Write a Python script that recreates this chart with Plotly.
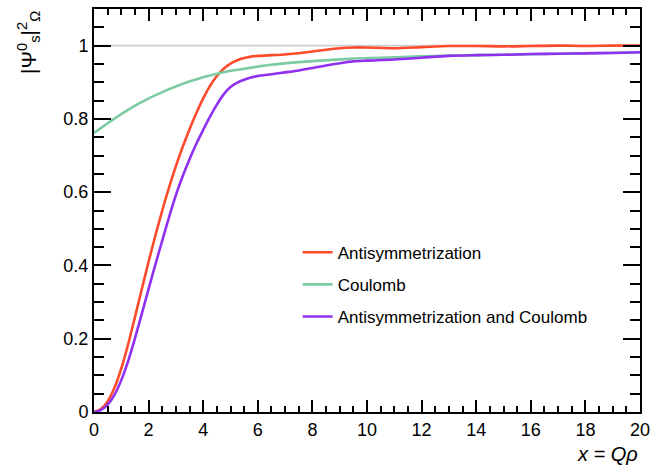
import plotly.graph_objects as go

# ---- data ----
x_anti = [0, 0.25, 0.5, 0.75, 1.0, 1.25, 1.5, 1.75, 2.0, 2.25, 2.5, 2.75, 3.0, 3.25, 3.5, 3.75, 4.0, 4.25, 4.5, 4.75,
          5.0, 5.25, 5.5, 5.75, 6.0, 6.5, 7.0, 7.5, 8.0, 8.5, 9.0, 9.5, 10.0, 11.0, 12.0, 13.0, 14.0, 15.0, 16.0, 17.0, 18.0, 19.0, 20.0]
y_anti = [0, 0.008, 0.029, 0.066, 0.119, 0.185, 0.259, 0.335, 0.41, 0.482, 0.55, 0.613, 0.671, 0.724, 0.772, 0.816, 0.856, 0.89, 0.917, 0.937,
          0.951, 0.960, 0.966, 0.970, 0.972, 0.974, 0.976, 0.979, 0.984, 0.989, 0.993, 0.995, 0.995, 0.993, 0.996, 0.999, 0.999, 0.998, 0.999, 1.0, 0.999, 1.0, 1.0]

x_coul = [0, 0.75, 1.67, 2.5, 3.49, 4.65, 5.33, 6.4, 7.5, 9.33, 11.0, 13.0, 15.0, 17.0, 20.0]
y_coul = [0.762, 0.801, 0.843, 0.873, 0.902, 0.926, 0.935, 0.947, 0.955, 0.964, 0.968, 0.973, 0.975, 0.978, 0.982]

x_both = [0, 0.25, 0.5, 0.75, 1.0, 1.25, 1.5, 1.75, 2.0, 2.25, 2.5, 2.75, 3.0, 3.25, 3.5, 3.75, 4.0, 4.25, 4.5, 4.75,
          5.0, 5.25, 5.5, 5.75, 6.0, 6.5, 7.0, 7.5, 8.0, 8.5, 9.0, 9.5, 10.0, 11.0, 12.0, 13.0, 14.0, 15.0, 16.0, 17.0, 18.0, 19.0, 20.0]
y_both = [0, 0.005, 0.02, 0.047, 0.087, 0.139, 0.201, 0.268, 0.336, 0.403, 0.468, 0.532, 0.592, 0.644, 0.690, 0.732, 0.770, 0.806, 0.839, 0.867,
          0.887, 0.899, 0.907, 0.913, 0.917, 0.922, 0.927, 0.932, 0.939, 0.946, 0.952, 0.957, 0.959, 0.962, 0.967, 0.972, 0.974, 0.975, 0.977, 0.978, 0.979, 0.980, 0.982]

names = ["Antisymmetrization", "Coulomb", "Antisymmetrization and Coulomb"]
colors = ["#fd4b2b", "#7ccba2", "#9030f0"]

x_ticks = list(range(0, 21, 2))
y_ticks = [0, 0.2, 0.4, 0.6, 0.8, 1]
y_ticklabels = ["0", "0.2", "0.4", "0.6", "0.8", "1"]

FONT = "Liberation Sans, Arial, Helvetica, sans-serif"

fig = go.Figure()

# reference line at 1
fig.add_trace(go.Scatter(x=[0, 20], y=[1, 1], mode="lines",
                         line=dict(color="#cfcfcf", width=1.8),
                         showlegend=False, hoverinfo="skip"))

for i, (xs, ys) in enumerate([(x_anti, y_anti), (x_coul, y_coul), (x_both, y_both)]):
    fig.add_trace(go.Scatter(x=xs, y=ys, mode="lines", name=names[i],
                             legendgroup=f"g{i}",
                             line=dict(color=colors[i], width=2.6, shape="spline", smoothing=0.8)))

fig.update_layout(
    width=670, height=472,
    margin=dict(l=94, r=30, t=7, b=60),
    paper_bgcolor="white", plot_bgcolor="white",
    font=dict(family=FONT, size=18, color="black"),
    showlegend=True,
    legend=dict(x=0.373, y=0.44, xanchor="left", yanchor="top",
                bgcolor="rgba(0,0,0,0)", font=dict(size=17, family=FONT),
                tracegroupgap=7, itemwidth=30),
)

fig.update_xaxes(range=[0, 20], tickvals=x_ticks, ticktext=[str(v) for v in x_ticks],
                 showline=True, linecolor="black", linewidth=2, mirror="ticks",
                 ticks="inside", ticklen=12, tickwidth=2, tickcolor="black",
                 showgrid=False, zeroline=False,
                 minor=dict(dtick=0.5, ticks="inside", ticklen=6, tickwidth=2, tickcolor="black", showgrid=False),
                 tickfont=dict(size=18, family=FONT))

fig.update_yaxes(range=[0, 1.1], tickvals=y_ticks, ticktext=y_ticklabels,
                 showline=True, linecolor="black", linewidth=2, mirror="ticks",
                 ticks="inside", ticklen=17, tickwidth=2, tickcolor="black",
                 showgrid=False, zeroline=False,
                 minor=dict(dtick=0.05, ticks="inside", ticklen=10, tickwidth=2, tickcolor="black", showgrid=False),
                 tickfont=dict(size=18, family=FONT))

# axis titles
fig.add_annotation(text="<i>x = Qρ</i>", xref="paper", yref="paper",
                   x=1.0, y=-0.105, xanchor="right", yanchor="middle",
                   showarrow=False, font=dict(size=20, family=FONT))
fig.add_annotation(text="|Ψ<sup>0</sup><sub>s</sub>|<sup>2</sup><sub>Ω</sub>",
                   xref="paper", yref="paper", x=-0.12, y=1.0,
                   xanchor="center", yanchor="top", textangle=-90,
                   showarrow=False, font=dict(size=21, family=FONT))

fig.write_html("out.html")
